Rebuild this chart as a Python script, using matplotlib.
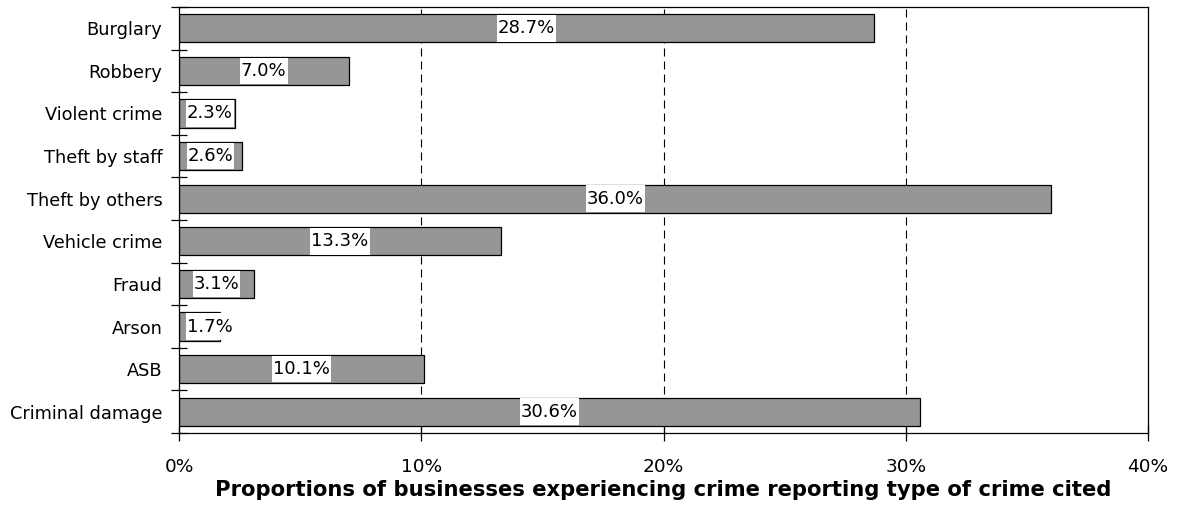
import matplotlib
matplotlib.use("Agg")
import matplotlib.pyplot as plt
from matplotlib.patches import Rectangle
from matplotlib.ticker import FuncFormatter, MultipleLocator

# Crime types, top to bottom as listed
categories = ["Burglary", "Robbery", "Violent crime", "Theft by staff", "Theft by others",
              "Vehicle crime", "Fraud", "Arson", "ASB", "Criminal damage"]
values = [28.7, 7.0, 2.3, 2.6, 36.0, 13.3, 3.1, 1.7, 10.1, 30.6]

xlabel = "Proportions of businesses experiencing crime reporting type of crime cited"

plt.rcParams["font.family"] = ["DejaVu Sans"]
fig = plt.figure(figsize=(11.79, 5.15), dpi=100)
ax = fig.add_axes([179 / 1179, 1 - 433 / 515, (1148 - 179) / 1179, (433 - 7) / 515])

n = len(categories)
ypos = list(range(n - 1, -1, -1))
bar_h = 0.66
ax.barh(ypos, values, height=bar_h, color="#969696", edgecolor="black", linewidth=0.9, zorder=2)

ax.set_xlim(0, 40)
ax.set_ylim(-0.5, n - 0.5)
ax.xaxis.set_major_locator(MultipleLocator(10))
ax.xaxis.set_major_formatter(FuncFormatter(lambda v, p: f"{v:.0f}%"))
ax.set_yticks(ypos)
ax.set_yticklabels(categories)
ax.set_yticks([i - 0.5 for i in range(n + 1)], minor=True)
ax.tick_params(axis="y", which="major", length=0, pad=12, labelsize=12.8)
ax.tick_params(axis="y", which="minor", direction="inout", length=12, width=0.9)
ax.tick_params(axis="x", which="major", direction="inout", length=12, width=0.9, pad=12, labelsize=13.3)

for v in (10, 20, 30):
    ax.axvline(v, color="black", linestyle=(0, (7.2, 4.5)), linewidth=0.8, zorder=1)

for s in ax.spines.values():
    s.set_linewidth(0.9)

ax.set_xlabel(xlabel, fontweight="bold", fontsize=15.2, labelpad=3)

# Value labels on white patches centred on each bar, kept clear of the y axis
texts = []
for y, v in zip(ypos, values):
    t = ax.text(v / 2, y, f"{v:.1f}%", ha="center", va="center", fontsize=13, zorder=4)
    texts.append((t, y))

fig.canvas.draw()
renderer = fig.canvas.get_renderer()
inv = ax.transData.inverted()
axis_px = ax.transData.transform((0, 0))[0]
for t, y in texts:
    bb = t.get_window_extent(renderer)
    w = bb.width
    cx = 0.5 * (bb.x0 + bb.x1)
    cx = max(cx, axis_px + 8 + w / 2)
    t.set_x(inv.transform((cx, 0))[0])
    x0 = inv.transform((cx - w / 2 - 1, 0))[0]
    x1 = inv.transform((cx + w / 2 + 1, 0))[0]
    inner = bar_h - 0.04
    ax.add_patch(Rectangle((x0, y - inner / 2), x1 - x0, inner, facecolor="white",
                           edgecolor="none", zorder=3))

fig.savefig("out.png", dpi=100)
